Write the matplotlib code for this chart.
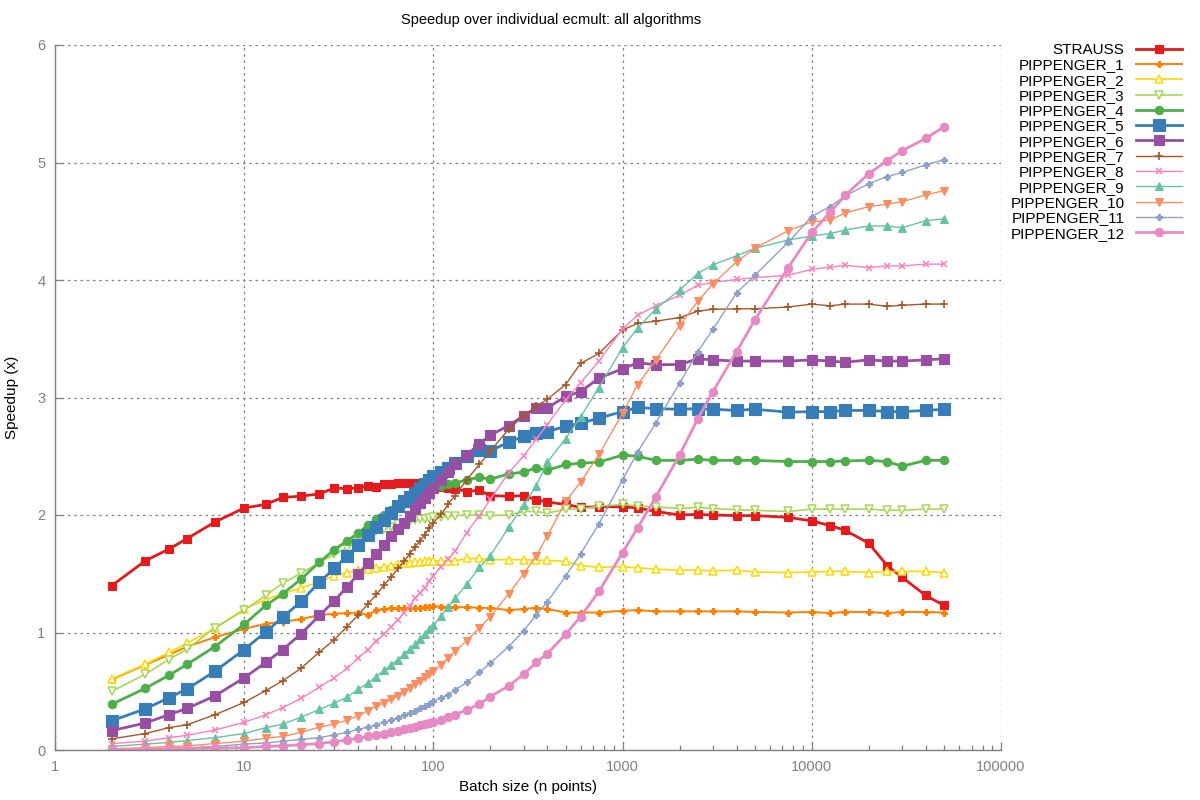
import matplotlib
matplotlib.use("Agg")
import matplotlib.pyplot as plt

plt.rcParams['font.family'] = ['Liberation Sans', 'DejaVu Sans']

batch = [2, 3, 4, 5, 7, 10, 13, 16, 20, 25, 30, 35, 40, 45, 50, 55, 60, 65, 70, 75,
         80, 85, 90, 95, 100, 110, 120, 130, 150, 175, 200, 250, 300, 350, 400, 500,
         600, 750, 1000, 1200, 1500, 2000, 2500, 3000, 4000, 5000, 7500, 10000, 12500,
         15000, 20000, 25000, 30000, 40000, 50000]

strauss = [1.40, 1.61, 1.71, 1.80, 1.94, 2.06, 2.09, 2.15, 2.16, 2.18,
           2.23, 2.225, 2.23, 2.25, 2.235, 2.26, 2.26, 2.27, 2.27, 2.27,
           2.27, 2.265, 2.26, 2.255, 2.25, 2.24, 2.23, 2.225, 2.20, 2.21,
           2.165, 2.16, 2.165, 2.13, 2.11, 2.09, 2.065, 2.07, 2.07, 2.06,
           2.03, 2.00, 2.005, 2.00, 1.995, 1.995, 1.98, 1.95, 1.91, 1.87,
           1.76, 1.57, 1.47, 1.315, 1.23]
p1 = [0.60, 0.725, 0.81, 0.88, 0.96, 1.03, 1.075, 1.09, 1.115, 1.148,
      1.16, 1.165, 1.17, 1.15, 1.19, 1.20, 1.205, 1.205, 1.205, 1.205,
      1.21, 1.21, 1.22, 1.22, 1.225, 1.22, 1.22, 1.215, 1.215, 1.21,
      1.21, 1.19, 1.20, 1.21, 1.20, 1.17, 1.17, 1.17, 1.185, 1.19,
      1.18, 1.18, 1.18, 1.18, 1.18, 1.175, 1.17, 1.175, 1.165, 1.175,
      1.175, 1.165, 1.175, 1.175, 1.17]
p2 = [0.605, 0.73, 0.83, 0.91, 1.035, 1.20, 1.28, 1.33, 1.38, 1.43,
      1.485, 1.51, 1.53, 1.54, 1.55, 1.56, 1.57, 1.58, 1.59, 1.59,
      1.60, 1.60, 1.605, 1.61, 1.61, 1.61, 1.61, 1.61, 1.63, 1.63,
      1.62, 1.62, 1.62, 1.615, 1.615, 1.605, 1.57, 1.555, 1.56, 1.55,
      1.54, 1.53, 1.53, 1.525, 1.53, 1.515, 1.51, 1.515, 1.52, 1.52,
      1.51, 1.52, 1.52, 1.52, 1.51]
p3 = [0.50, 0.645, 0.77, 0.86, 1.04, 1.19, 1.315, 1.42, 1.505, 1.595,
      1.665, 1.72, 1.77, 1.82, 1.86, 1.88, 1.90, 1.92, 1.935, 1.95,
      1.96, 1.965, 1.97, 1.975, 1.98, 1.985, 1.99, 1.995, 2.00, 2.00,
      1.995, 2.00, 2.03, 2.03, 2.015, 2.05, 2.05, 2.075, 2.09, 2.075,
      2.07, 2.055, 2.065, 2.055, 2.045, 2.04, 2.03, 2.05, 2.05, 2.05,
      2.05, 2.04, 2.04, 2.05, 2.05]
p4 = [0.39, 0.525, 0.635, 0.73, 0.88, 1.07, 1.23, 1.33, 1.455, 1.60,
      1.705, 1.78, 1.845, 1.915, 1.965, 2.00, 2.04, 2.07, 2.10, 2.13,
      2.16, 2.18, 2.20, 2.215, 2.23, 2.245, 2.265, 2.27, 2.30, 2.32,
      2.305, 2.35, 2.365, 2.40, 2.38, 2.43, 2.44, 2.45, 2.51, 2.50,
      2.465, 2.465, 2.475, 2.465, 2.465, 2.465, 2.455, 2.455, 2.455, 2.46,
      2.465, 2.455, 2.415, 2.465, 2.465]
p5 = [0.25, 0.35, 0.445, 0.52, 0.67, 0.855, 1.005, 1.13, 1.265, 1.43,
      1.545, 1.655, 1.745, 1.83, 1.90, 1.96, 2.02, 2.075, 2.115, 2.15,
      2.185, 2.23, 2.26, 2.30, 2.33, 2.365, 2.40, 2.44, 2.50, 2.55,
      2.545, 2.62, 2.67, 2.70, 2.71, 2.755, 2.78, 2.825, 2.88, 2.915,
      2.905, 2.90, 2.905, 2.90, 2.89, 2.90, 2.875, 2.88, 2.88, 2.89,
      2.89, 2.88, 2.88, 2.89, 2.90]
p6 = [0.165, 0.23, 0.30, 0.355, 0.46, 0.615, 0.745, 0.855, 0.99, 1.145,
      1.27, 1.39, 1.495, 1.59, 1.665, 1.745, 1.82, 1.88, 1.93, 1.99,
      2.05, 2.10, 2.145, 2.19, 2.23, 2.295, 2.365, 2.43, 2.51, 2.605,
      2.68, 2.76, 2.845, 2.91, 2.91, 3.01, 3.05, 3.165, 3.245, 3.295,
      3.28, 3.28, 3.33, 3.32, 3.31, 3.31, 3.31, 3.32, 3.31, 3.30,
      3.32, 3.31, 3.31, 3.32, 3.33]
p7 = [0.095, 0.14, 0.19, 0.215, 0.30, 0.405, 0.505, 0.59, 0.695, 0.835,
      0.94, 1.05, 1.15, 1.24, 1.325, 1.405, 1.475, 1.545, 1.605, 1.67,
      1.73, 1.78, 1.83, 1.89, 1.935, 2.005, 2.095, 2.165, 2.30, 2.43,
      2.545, 2.73, 2.845, 2.925, 2.985, 3.11, 3.29, 3.375, 3.575, 3.63,
      3.65, 3.68, 3.735, 3.75, 3.755, 3.755, 3.77, 3.795, 3.78, 3.795,
      3.795, 3.775, 3.785, 3.795, 3.795]
p8 = [0.055, 0.075, 0.105, 0.125, 0.17, 0.235, 0.30, 0.36, 0.44, 0.535,
      0.615, 0.695, 0.78, 0.855, 0.925, 0.99, 1.05, 1.11, 1.17, 1.225,
      1.29, 1.335, 1.38, 1.435, 1.48, 1.56, 1.625, 1.69, 1.85, 1.995,
      2.135, 2.36, 2.505, 2.645, 2.77, 2.98, 3.125, 3.31, 3.585, 3.70,
      3.78, 3.87, 3.955, 3.98, 4.005, 4.02, 4.04, 4.09, 4.11, 4.125,
      4.105, 4.12, 4.12, 4.135, 4.135]
p9 = [0.03, 0.05, 0.065, 0.08, 0.105, 0.14, 0.19, 0.22, 0.28, 0.345,
      0.40, 0.45, 0.515, 0.57, 0.625, 0.68, 0.725, 0.77, 0.815, 0.86,
      0.90, 0.945, 0.99, 1.03, 1.06, 1.14, 1.22, 1.29, 1.41, 1.555,
      1.655, 1.895, 2.085, 2.25, 2.45, 2.65, 2.835, 3.085, 3.425, 3.59,
      3.755, 3.915, 4.055, 4.13, 4.205, 4.27, 4.34, 4.375, 4.395, 4.425,
      4.46, 4.46, 4.445, 4.505, 4.52]
p10 = [0.01, 0.02, 0.03, 0.035, 0.055, 0.075, 0.10, 0.115, 0.15, 0.195,
       0.22, 0.255, 0.29, 0.335, 0.375, 0.40, 0.43, 0.46, 0.49, 0.525,
       0.56, 0.59, 0.62, 0.645, 0.67, 0.725, 0.785, 0.84, 0.93, 1.04,
       1.135, 1.33, 1.50, 1.655, 1.82, 2.115, 2.28, 2.515, 2.865, 3.11,
       3.32, 3.61, 3.82, 3.965, 4.155, 4.27, 4.42, 4.495, 4.51, 4.57,
       4.625, 4.645, 4.665, 4.725, 4.76]
p11 = [0.005, 0.01, 0.015, 0.02, 0.03, 0.05, 0.06, 0.075, 0.09, 0.105,
       0.13, 0.15, 0.175, 0.195, 0.215, 0.235, 0.255, 0.275, 0.295, 0.315,
       0.335, 0.355, 0.375, 0.395, 0.415, 0.445, 0.47, 0.51, 0.575, 0.66,
       0.74, 0.88, 1.015, 1.15, 1.26, 1.48, 1.67, 1.925, 2.30, 2.535,
       2.785, 3.12, 3.39, 3.58, 3.89, 4.04, 4.32, 4.54, 4.625, 4.715,
       4.82, 4.88, 4.915, 4.98, 5.025]
p12 = [0.005, 0.005, 0.01, 0.012, 0.015, 0.02, 0.03, 0.035, 0.045, 0.055,
       0.07, 0.085, 0.10, 0.115, 0.13, 0.14, 0.15, 0.16, 0.175, 0.185,
       0.20, 0.21, 0.22, 0.23, 0.24, 0.255, 0.285, 0.30, 0.34, 0.39,
       0.455, 0.545, 0.645, 0.745, 0.82, 0.985, 1.135, 1.35, 1.68, 1.89,
       2.155, 2.51, 2.82, 3.05, 3.39, 3.66, 4.105, 4.405, 4.575, 4.72,
       4.905, 5.015, 5.10, 5.205, 5.305]

labels = ["STRAUSS"] + ["PIPPENGER_%d" % i for i in range(1, 13)]
series = [strauss, p1, p2, p3, p4, p5, p6, p7, p8, p9, p10, p11, p12]

styles = [
    dict(color='#e41a1c', lw=2.0, marker='s', ms=5.5),
    dict(color='#ff7f00', lw=1.4, marker='P', ms=5),
    dict(color='#ffd700', lw=1.2, marker='^', ms=5.5, mfc='white', mew=1.1),
    dict(color='#a6d854', lw=1.2, marker='v', ms=5.5, mfc='white', mew=1.1),
    dict(color='#4daf4a', lw=2.0, marker='o', ms=6),
    dict(color='#377eb8', lw=2.0, marker='s', ms=8.5),
    dict(color='#984ea3', lw=2.0, marker='s', ms=6.5),
    dict(color='#a65628', lw=1.0, marker='+', ms=6, mew=1.2),
    dict(color='#f781bf', lw=1.0, marker='x', ms=4.5, mew=1.1),
    dict(color='#66c2a5', lw=1.0, marker='^', ms=6),
    dict(color='#fc8d62', lw=1.0, marker='v', ms=6),
    dict(color='#8da0cb', lw=1.0, marker='P', ms=4.5),
    dict(color='#e78ac3', lw=2.0, marker='o', ms=6),
]

fig = plt.figure(figsize=(12, 8), dpi=100)
ax = fig.add_axes([55 / 1200, 50 / 800, (1001 - 55) / 1200, (750 - 45) / 800])

for lab, ys, st in zip(labels, series, styles):
    ax.plot(batch, ys, label=lab, color=st['color'], lw=st['lw'], marker=st['marker'],
            markersize=st['ms'], markerfacecolor=st.get('mfc', st['color']),
            markeredgecolor=st['color'], markeredgewidth=st.get('mew', 0.8))

ax.set_xscale('log')
ax.set_xlim(1, 100000)
ax.set_ylim(0, 6)
ax.set_xticks([1, 10, 100, 1000, 10000, 100000])
ax.set_xticklabels(['1', '10', '100', '1000', '10000', '100000'])
ax.set_yticks([0, 1, 2, 3, 4, 5, 6])
ax.set_yticklabels(['0', '1', '2', '3', '4', '5', '6'])

gray = '#808080'
ax.grid(True, which='major', color=gray, linestyle=(0, (2, 3)), linewidth=0.9)
ax.tick_params(which='both', direction='in', color=gray, labelcolor=gray, labelsize=10.5)
ax.tick_params(which='major', length=6, width=0.9, pad=7)
ax.tick_params(which='minor', length=3.5, width=0.9)
for s in ['top', 'right']:
    ax.spines[s].set_visible(False)
for s in ['left', 'bottom']:
    ax.spines[s].set_color(gray)
    ax.spines[s].set_linewidth(1.0)

fig.text(551.5 / 1200, 1 - 20 / 800, 'Speedup over individual ecmult: all algorithms',
         ha='center', va='center', fontsize=10.5)
fig.text(528 / 1200, 1 - 787 / 800, 'Batch size (n points)', ha='center', va='center', fontsize=11)
fig.text(12 / 1200, 1 - 397 / 800, 'Speedup (x)', ha='center', va='center', rotation=90, fontsize=11)

ax.legend(loc='upper right', bbox_to_anchor=(1182 / 1200, 1 - 43 / 800),
          bbox_transform=fig.transFigure, markerfirst=False, frameon=False,
          fontsize=11, handlelength=3.0, handletextpad=0.75, labelspacing=0.085,
          borderpad=0, borderaxespad=0)

fig.savefig('out.png', dpi=100)
